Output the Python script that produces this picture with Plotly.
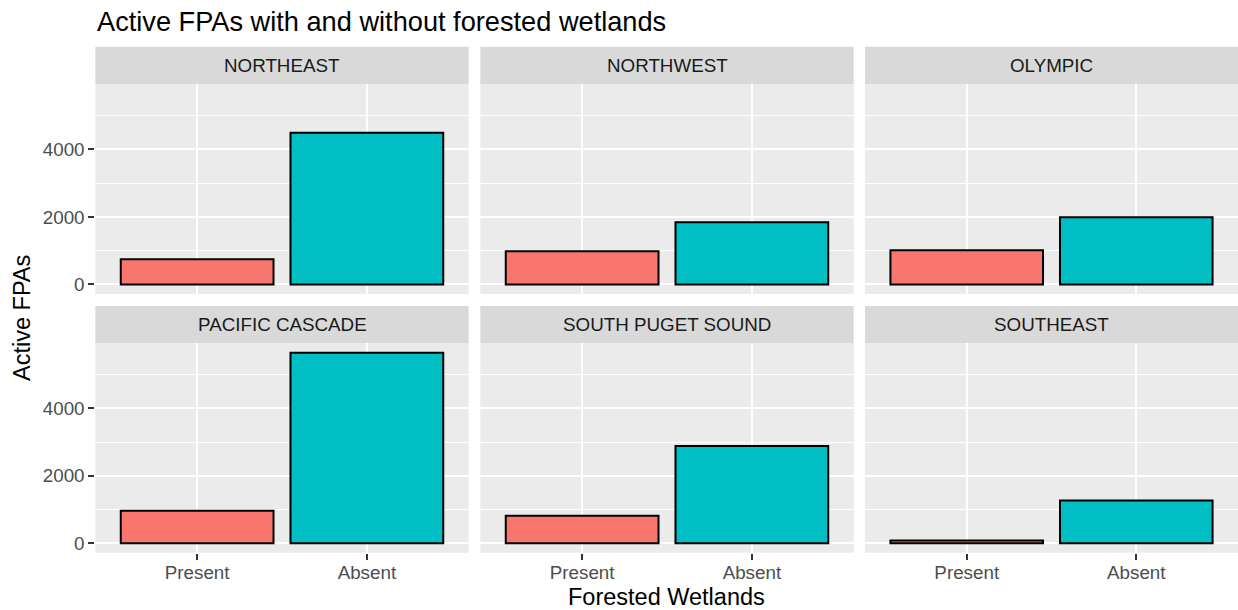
import plotly.graph_objects as go

# ---- data ----
regions = ["NORTHEAST", "NORTHWEST", "OLYMPIC",
           "PACIFIC CASCADE", "SOUTH PUGET SOUND", "SOUTHEAST"]
categories = ["Present", "Absent"]
present_counts = [750, 980, 1010, 960, 810, 80]
absent_counts = [4490, 1840, 1990, 5645, 2880, 1265]
fill_colors = {"Present": "#F8766D", "Absent": "#00BFC4"}
y_ticks = [0, 2000, 4000]

W, H = 1238, 610
FONT = "Liberation Sans, Arial, Helvetica, sans-serif"

# layout in pixels (ggplot-like)
col_px = [(95.3, 468.7), (480.3, 853.7), (865.0, 1238.0)]
row_px = [(84.3, 294.0), (343.3, 552.7)]
strip_px = [(46.7, 84.3), (306.0, 343.3)]


def px_x(p):
    return p / W


def px_y(p):
    return 1 - p / H


ymax = max(max(present_counts), max(absent_counts))
yrange = [-0.05 * ymax, 1.05 * ymax]

fig = go.Figure()
shapes = []
annotations = []

for i, region in enumerate(regions):
    r, c = divmod(i, 3)
    n = i + 1
    xa = "x" if n == 1 else f"x{n}"
    ya = "y" if n == 1 else f"y{n}"
    vals = [present_counts[i], absent_counts[i]]
    fig.add_trace(go.Bar(
        x=categories, y=vals, xaxis=xa, yaxis=ya,
        width=0.9,
        marker=dict(color=[fill_colors[k] for k in categories],
                    line=dict(color="black", width=2)),
        showlegend=False, hoverinfo="x+y",
    ))
    x0, x1 = col_px[c]
    y0, y1 = row_px[r]
    xkey = "xaxis" if n == 1 else f"xaxis{n}"
    ykey = "yaxis" if n == 1 else f"yaxis{n}"
    fig.layout[xkey] = dict(
        domain=[px_x(x0), px_x(x1)], anchor=ya,
        type="category", categoryorder="array", categoryarray=categories,
        range=[-0.6, 1.6], showgrid=True, gridcolor="white", gridwidth=1.7,
        showline=False, zeroline=False,
        ticks="outside" if r == 1 else "", ticklen=6, tickwidth=1.7,
        tickcolor="#333333",
        showticklabels=(r == 1),
        ticklabelstandoff=-3,
        tickfont=dict(family=FONT, size=18.8, color="#4D4D4D"),
        fixedrange=True,
    )
    fig.layout[ykey] = dict(
        domain=[px_y(y1), px_y(y0)], anchor=xa,
        range=yrange, tickmode="array", tickvals=y_ticks,
        ticktext=[str(v) for v in y_ticks],
        showgrid=True, gridcolor="white", gridwidth=1.7,
        minor=dict(tickmode="array", tickvals=[1000, 3000, 5000],
                   showgrid=True, gridcolor="white", gridwidth=0.85, ticks=""),
        zeroline=False, showline=False,
        ticks="outside" if c == 0 else "", ticklen=6, tickwidth=1.7,
        tickcolor="#333333",
        showticklabels=(c == 0),
        tickfont=dict(family=FONT, size=18.8, color="#4D4D4D"),
        fixedrange=True,
    )
    # panel background
    shapes.append(dict(type="rect", xref="paper", yref="paper",
                       x0=px_x(x0), x1=px_x(x1), y0=px_y(y1), y1=px_y(y0),
                       fillcolor="#EBEBEB", line=dict(width=0), layer="below"))
    # strip
    s0, s1 = strip_px[r]
    shapes.append(dict(type="rect", xref="paper", yref="paper",
                       x0=px_x(x0), x1=px_x(x1), y0=px_y(s1), y1=px_y(s0),
                       fillcolor="#D9D9D9", line=dict(width=0), layer="below"))
    annotations.append(dict(text=region, xref="paper", yref="paper",
                            x=px_x((x0 + x1) / 2), y=px_y((s0 + s1) / 2),
                            xanchor="center", yanchor="middle", showarrow=False,
                            font=dict(family=FONT, size=18.8, color="#1A1A1A")))

annotations.append(dict(text="Active FPAs with and without forested wetlands",
                        xref="paper", yref="paper", x=px_x(95.3), y=px_y(21.5),
                        xanchor="left", yanchor="middle", showarrow=False,
                        font=dict(family=FONT, size=27.2, color="black")))
annotations.append(dict(text="Forested Wetlands", xref="paper", yref="paper",
                        x=px_x(666.7), y=px_y(596.5), xanchor="center",
                        yanchor="middle", showarrow=False,
                        font=dict(family=FONT, size=23.5, color="black")))
annotations.append(dict(text="Active FPAs", xref="paper", yref="paper",
                        x=px_x(22), y=px_y(318), xanchor="center",
                        yanchor="middle", showarrow=False, textangle=-90,
                        font=dict(family=FONT, size=23.5, color="black")))

fig.update_layout(
    width=W, height=H,
    margin=dict(l=0, r=0, t=0, b=0, pad=0),
    paper_bgcolor="white", plot_bgcolor="rgba(0,0,0,0)",
    shapes=shapes, annotations=annotations,
    bargap=0.1, showlegend=False,
)

fig.write_html("out.html",
               config={"displayModeBar": False},
               post_script="document.body.style.margin='0';"
                           "document.body.style.overflow='hidden';")
